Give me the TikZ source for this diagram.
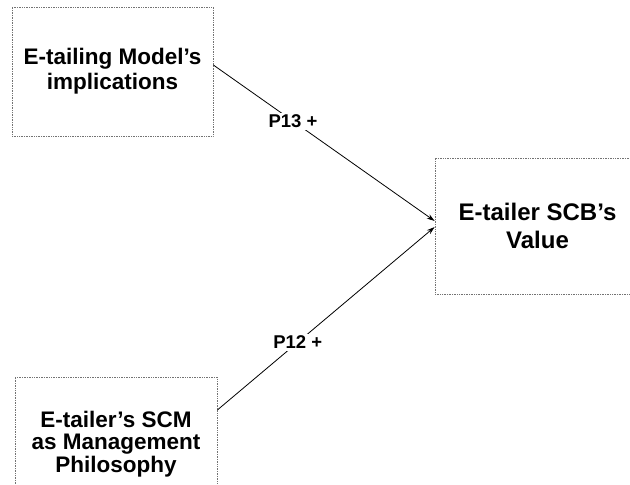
\documentclass[tikz,border=0pt]{standalone}
\usepackage{fontspec}
\setmainfont{Liberation Sans}
\usetikzlibrary{arrows.meta}
\tikzset{
  concept/.style={draw=black!55, densely dotted, line width=0.7pt, align=center,
    font=\bfseries\fontsize{22.5}{25}\selectfont, inner sep=0pt},
  link/.style={draw=black, line width=0.8pt, -{Stealth[length=8pt,width=5pt]}},
  sign/.style={fill=white, inner sep=2pt, font=\bfseries\fontsize{18.5}{20}\selectfont}
}
\begin{document}
\begin{tikzpicture}[x=1pt,y=-1pt]
  \useasboundingbox (0,0) rectangle (630,485);
  \clip (0,0) rectangle (630,485);
  \fill[white] (0,0) rectangle (630,485);

  % constructs
  \node[concept, minimum width=201pt, minimum height=129pt] (model) at (112.5,71.5)
    {E-tailing Model's\\implications};
  \node[concept, minimum width=205pt, minimum height=136pt,
        font=\bfseries\fontsize{24}{28.5}\selectfont] (value) at (537.5,226)
    {E-tailer SCB's\\Value};
  \node[concept, minimum width=202pt, minimum height=134pt,
        font=\bfseries\fontsize{22.5}{22.5}\selectfont] (scm) at (116,444)
    {E-tailer's SCM\\as Management\\Philosophy};

  % propositions
  \draw[link] ([yshift=6.5pt]model.east) -- node[sign, pos=0.36] (p13) {P13 +}
    ([yshift=5pt]value.west);
  \draw[link] ([yshift=34pt]scm.east) -- node[sign, pos=0.37] (p12) {P12 +}
    ([yshift=-1pt]value.west);
\end{tikzpicture}
\end{document}
